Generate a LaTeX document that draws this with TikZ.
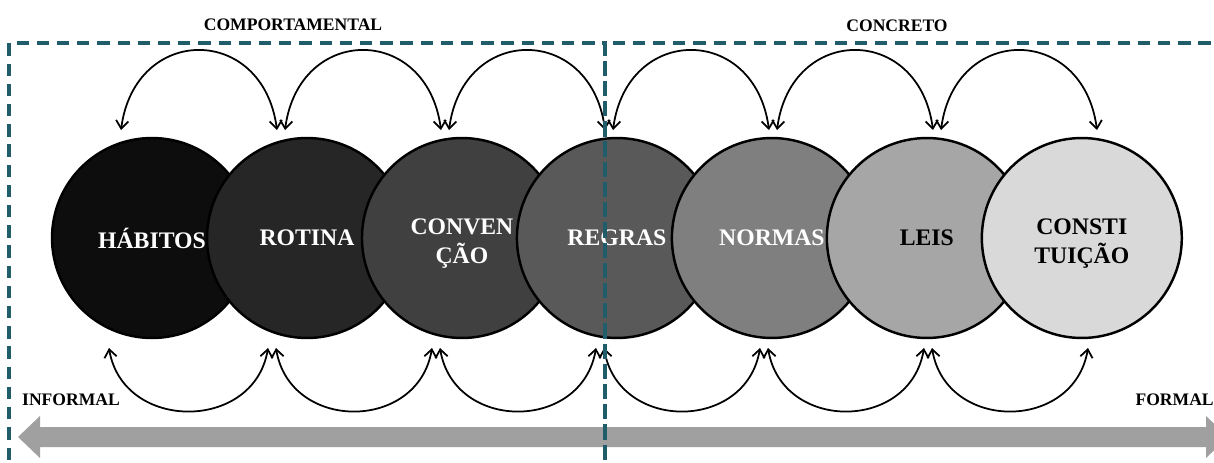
\documentclass[tikz,border=0pt]{standalone}
\usepackage{fontspec}
\setmainfont{Liberation Serif}
\usetikzlibrary{arrows.meta,positioning}
\definecolor{boxteal}{HTML}{215C6B}
\definecolor{bandgray}{HTML}{A0A0A0}
\definecolor{g1}{HTML}{0D0D0D}
\definecolor{g2}{HTML}{262626}
\definecolor{g3}{HTML}{404040}
\definecolor{g4}{HTML}{595959}
\definecolor{g5}{HTML}{7F7F7F}
\definecolor{g6}{HTML}{A6A6A6}
\definecolor{g7}{HTML}{D9D9D9}
\tikzset{
    stage/.style={
        draw,
        circle,
        line width=1.4pt,
        minimum size=4cm,
        inner sep=0pt,
        align=center,
        font=\fontsize{13.5}{16.4}\selectfont\bfseries
    },
    stagetext/.style={
        inner sep=0pt,
        align=center,
        font=\fontsize{13.5}{16.4}\selectfont\bfseries
    },
    tag/.style={
        inner sep=0pt,
        font=\fontsize{10}{12}\selectfont\bfseries
    },
    link/.style={
        line width=1pt,
        {Straight Barb[length=4.5pt,width=7pt]}-{Straight Barb[length=4.5pt,width=7pt]}
    },
    zone/.style={
        draw=boxteal,
        line width=2.2pt,
        dash pattern=on 7pt off 4.5pt
    }
}

\begin{document}
\begin{tikzpicture}[x=0.02cm,y=-0.02cm]
  \useasboundingbox (0,0) rectangle (1214,463);
  \clip (0,0) rectangle (1214,463);

  % informal -> formal band
  \fill[bandgray] (18,437) -- (40,416) -- (40,427) -- (1206,427) -- (1206,416)
    -- (1228,437) -- (1206,458) -- (1206,447) -- (40,447) -- (40,458) -- cycle;

  % the seven stages
  \begin{scope}[node distance=3.1cm, on grid]
    \node[stage, fill=g1, text=white] (hab) at (152,238) {HÁBITOS};
    \node[stage, fill=g2, text=white, right=of hab] (rot) {ROTINA};
    \node[stage, fill=g3, right=of rot] (conv) {};
    \node[stage, fill=g4, text=white, right=of conv] (reg) {REGRAS};
    \node[stage, fill=g5, text=white, right=of reg] (norm) {NORMAS};
    \node[stage, fill=g6, text=black, right=of norm] (leis) {LEIS};
    \node[stage, fill=g7, right=of leis] (const) {};
  \end{scope}
  \node at ([yshift=-3.4pt]conv) [stagetext, text=white] (convtxt) {CONVEN\\ÇÃO};
  \node at ([yshift=-3.4pt]const) [stagetext, text=black] (consttxt) {CONSTI\\TUIÇÃO};

  % arcs above
  \foreach \a/\b [count=\k] in {121/277, 285/441, 449/605, 613/769, 777/933, 941/1097} {
    \coordinate (up\k s) at (\a,130);
    \coordinate (up\k e) at (\b,130);
    \draw[link] (up\k s) .. controls +(14,-106) and +(-14,-106) .. (up\k e);
  }

  % arcs below
  \foreach \a/\b [count=\k] in {109/268, 276/432, 440/596, 604/760, 768/924, 932/1088} {
    \coordinate (dn\k s) at (\a,348);
    \coordinate (dn\k e) at (\b,348);
    \draw[link] (dn\k s) .. controls +(14,84) and +(-14,84) .. (dn\k e);
  }

  % groups
  \draw[zone] (9,480) -- (9,43) -- (605,43) -- (605,480);
  \draw[zone] (605,480) -- (605,43) -- (1240,43);

  \node[tag] (comp) at (293,25) {COMPORTAMENTAL};
  \node[tag] (conc) at (897,26) {CONCRETO};
  \node[tag] (inf) at (71,400) {INFORMAL};
  \node[tag, anchor=east] (form) at (1214,400) {FORMAL};
\end{tikzpicture}
\end{document}
